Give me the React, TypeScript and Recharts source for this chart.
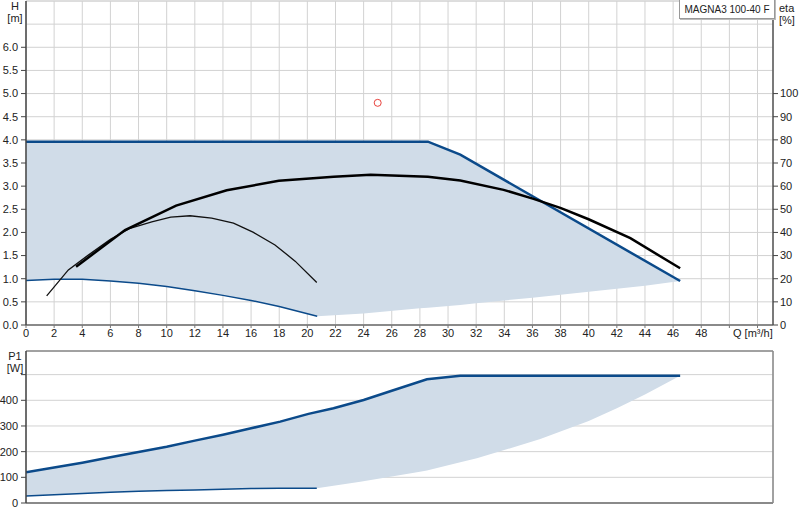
import React from 'react';
import { ComposedChart, Line, Area, XAxis, YAxis, CartesianGrid, ReferenceLine, ReferenceDot } from 'recharts';

// Q ticks [m³/h] shared by both panels
const qTicks = [0, 2, 4, 6, 8, 10, 12, 14, 16, 18, 20, 22, 24, 26, 28, 30, 32, 34, 36, 38, 40, 42, 44, 46, 48, 50, 52];
const hTicks = [0, 0.5, 1, 1.5, 2, 2.5, 3, 3.5, 4, 4.5, 5, 5.5, 6];
const hExtraGrid = [6.5, 7];
const etaTicks = [0, 10, 20, 30, 40, 50, 60, 70, 80, 90, 100];
const pTicks = [0, 100, 200, 300, 400, 500];

// H, max curve
const maxQ = [0, 28.57, 30.87, 46.5];
const maxH = [3.96, 3.96, 3.68, 0.95];

// H, min curve
const minQ = [0, 2, 4, 6, 8, 10, 12, 14, 16, 18, 20.7];
const minH = [0.96, 0.99, 0.99, 0.95, 0.9, 0.83, 0.74, 0.64, 0.53, 0.4, 0.19];

// H, operating range
const hAreaQ = [0, 2, 4, 6, 8, 10, 12, 14, 16, 18, 20.7, 24, 28, 28.57, 30.87, 32, 36, 40, 44, 46.5];
const hAreaLow = [0.96, 0.99, 0.99, 0.95, 0.9, 0.83, 0.74, 0.64, 0.53, 0.4, 0.19, 0.25, 0.36, 0.37, 0.43, 0.47, 0.59, 0.72, 0.85, 0.95];
const hAreaHigh = [3.96, 3.96, 3.96, 3.96, 3.96, 3.96, 3.96, 3.96, 3.96, 3.96, 3.96, 3.96, 3.96, 3.96, 3.68, 3.48, 2.78, 2.08, 1.39, 0.95];

// eta [%]
const etaQ = [3.56, 7.04, 10.67, 14.27, 17.97, 21.87, 24.5, 28.57, 30.87, 33.95, 36.08, 38.03, 39.99, 42.96, 46.5];
const etaVal = [25.2, 41, 51.6, 58.2, 62.3, 64.1, 64.9, 64.1, 62.4, 58.4, 54.5, 50.5, 45.7, 37.5, 24.5];

// thin curve
const thinQ = [1.47, 3.01, 4.43, 6.0, 7.4, 8.94, 10.29, 11.66, 13.2, 14.75, 16.17, 17.7, 19.13, 20.67];
const thinH = [0.63, 1.19, 1.51, 1.85, 2.09, 2.23, 2.33, 2.36, 2.31, 2.2, 2.0, 1.73, 1.38, 0.92];

// duty point
const dutyQ = 25;
const dutyH = 4.8;

// P1 [W]
const pMaxQ = [0, 2, 4, 6, 8, 10, 12, 14, 16, 18.07, 20.08, 21.86, 24, 26, 28.5, 30.87, 46.5];
const pMax = [120, 138, 157, 178, 199, 219, 243, 266, 291, 317, 347, 369, 401, 437, 482, 496, 496];
const pMinQ = [0, 2, 4, 6, 8, 10, 12, 14, 16, 18, 20.67];
const pMin = [27, 32, 37, 42, 46, 49, 51, 54, 56, 57, 57];
const pAreaQ = [0, 2, 4, 6, 8, 10, 12, 14, 16, 18.07, 20.67, 23.76, 26, 28, 28.5, 30.87, 32.05, 36.56, 40, 42, 44, 46.5];
const pAreaLow = [27, 32, 37, 42, 46, 49, 51, 54, 56, 57, 57, 83, 103, 122, 127, 159, 174, 249, 319, 369, 423, 496];
const pAreaHigh = [120, 138, 157, 178, 199, 219, 243, 266, 291, 317, 354, 398, 437, 473, 482, 496, 496, 496, 496, 496, 496, 496];

const pairs = (xs: number[], ys: number[]) => xs.map((q, i) => ({ q, v: ys[i] }));
const ranges = (xs: number[], lo: number[], hi: number[]) => xs.map((q, i) => ({ q, range: [lo[i], hi[i]] }));

const FONT = '"Liberation Sans", Arial, sans-serif';
const BLUE = '#0b4a8a';
const FILL = '#d0dce8';
const GRID = '#d2d2d2';
const tickStyle = { fill: '#222', fontSize: 11, fontFamily: FONT };

const label = (left: number, top: number, align: 'left' | 'center' = 'center', w = 30): React.CSSProperties => ({
  position: 'absolute', left, top, width: w, textAlign: align, fontSize: 11, fontFamily: FONT, color: '#222', lineHeight: '12px',
});

const App: React.FC = () => {
  return (
    <div style={{ position: 'absolute', left: 0, top: 0, width: 800, height: 520, background: '#fff', overflow: 'hidden' }}>
      <div style={{ position: 'absolute', left: 0, top: 0 }}>
        <ComposedChart width={800} height={340} margin={{ top: 1, right: 0, bottom: 0, left: 0 }}>
          <CartesianGrid stroke={GRID} vertical horizontal />
          <XAxis type="number" dataKey="q" domain={[0, 53.1]} ticks={qTicks} allowDataOverflow height={15}
            tick={tickStyle} tickLine={{ stroke: '#777' }} tickSize={3} tickMargin={1}
            tickFormatter={(v: number) => (v > 48 ? '' : String(v))}
            axisLine={{ stroke: '#8a8a8a', strokeWidth: 2 }} />
          <YAxis type="number" domain={[0, 7]} ticks={hTicks} allowDataOverflow width={26}
            tick={tickStyle} tickSize={5} tickMargin={3} tickFormatter={(v: number) => v.toFixed(1)}
            axisLine={{ stroke: '#444', strokeWidth: 1.5 }} tickLine={{ stroke: '#444' }} />
          <YAxis yAxisId="eta" orientation="right" type="number" domain={[0, 140]} ticks={etaTicks} allowDataOverflow width={27}
            tick={{ ...tickStyle, textAnchor: 'start' }} tickSize={5} tickMargin={2}
            axisLine={{ stroke: '#555', strokeWidth: 1.5 }} tickLine={{ stroke: '#444' }} />
          {hExtraGrid.map((h) => (
            <ReferenceLine key={h} y={h} stroke={GRID} />
          ))}
          <Area data={ranges(hAreaQ, hAreaLow, hAreaHigh)} dataKey="range" type="linear" stroke="none" fill={FILL} fillOpacity={1} isAnimationActive={false} />
          <Line data={pairs(minQ, minH)} dataKey="v" type="linear" stroke={BLUE} strokeWidth={1.5} dot={false} isAnimationActive={false} />
          <Line data={pairs(maxQ, maxH)} dataKey="v" type="linear" stroke={BLUE} strokeWidth={2.5} dot={false} isAnimationActive={false} />
          <Line data={pairs(thinQ, thinH)} dataKey="v" type="linear" stroke="#111" strokeWidth={1.3} dot={false} isAnimationActive={false} />
          <Line yAxisId="eta" data={pairs(etaQ, etaVal)} dataKey="v" type="linear" stroke="#000" strokeWidth={2.5} dot={false} isAnimationActive={false} />
          <ReferenceDot x={dutyQ} y={dutyH} r={3.5} fill="#fff" stroke="#e8413c" strokeWidth={1} />
        </ComposedChart>
      </div>

      <div style={{ position: 'absolute', left: 0, top: 340 }}>
        <ComposedChart width={800} height={180} margin={{ top: 11, right: 0, bottom: 0, left: 0 }}>
          <CartesianGrid stroke={GRID} vertical horizontal />
          <XAxis type="number" dataKey="q" domain={[0, 53.1]} ticks={qTicks} allowDataOverflow height={17}
            tick={false} tickLine={false} axisLine={{ stroke: '#8a8a8a', strokeWidth: 2 }} />
          <YAxis type="number" domain={[0, 592]} ticks={pTicks} allowDataOverflow width={26}
            tick={tickStyle} tickSize={5} tickMargin={3} tickFormatter={(v: number) => (v === 500 ? '' : String(v))}
            axisLine={{ stroke: '#444', strokeWidth: 1.5 }} tickLine={{ stroke: '#444' }} />
          <YAxis yAxisId="frame" orientation="right" domain={[0, 1]} width={27} tick={false} tickLine={false}
            axisLine={{ stroke: '#8a8a8a', strokeWidth: 1.5 }} />
          <ReferenceLine y={592} stroke="#8a8a8a" strokeWidth={1.5} />
          <Area data={ranges(pAreaQ, pAreaLow, pAreaHigh)} dataKey="range" type="linear" stroke="none" fill={FILL} fillOpacity={1} isAnimationActive={false} />
          <Line data={pairs(pMinQ, pMin)} dataKey="v" type="linear" stroke={BLUE} strokeWidth={1.5} dot={false} isAnimationActive={false} />
          <Line data={pairs(pMaxQ, pMax)} dataKey="v" type="linear" stroke={BLUE} strokeWidth={2.5} dot={false} isAnimationActive={false} />
        </ComposedChart>
      </div>

      <div style={label(0, 0)}>H<br />[m]</div>
      <div style={label(0, 350)}>P1<br />[W]</div>
      <div style={label(779, 2, 'left', 24)}>eta<br />[%]</div>
      <div style={{ position: 'absolute', left: 733, top: 327, fontSize: 11, fontFamily: FONT, color: '#222', whiteSpace: 'nowrap' }}>Q [m³/h]</div>
      <div style={{ position: 'absolute', left: 679, top: -1, width: 94, height: 18, border: '1px solid #999', boxShadow: '1px 1px 0 #bbb', background: '#fff', fontSize: 10, fontFamily: FONT, color: '#222', lineHeight: '19px', textAlign: 'center', whiteSpace: 'nowrap' }}>MAGNA3 100-40 F</div>
    </div>
  );
};

export default App;
